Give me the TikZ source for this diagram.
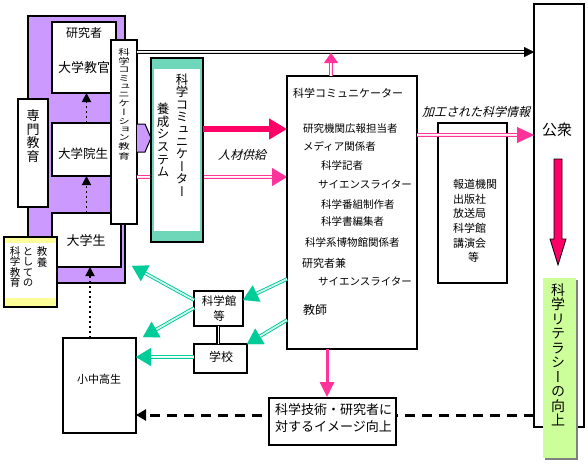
\documentclass[tikz,border=0pt]{standalone}
\usepackage{fontspec}
\usepackage{graphicx}
\newfontfamily\jp{Noto Sans CJK JP}
\newfontfamily\jpv{Noto Sans CJK JP}[RawFeature=+vert]
\newfontfamily\jpi{Noto Sans CJK JP}[FakeSlant=0.25]
\usetikzlibrary{arrows.meta}
\definecolor{purp}{RGB}{204,153,255}
\definecolor{yel}{RGB}{255,255,153}
\definecolor{lgreen}{RGB}{204,255,153}
\definecolor{teal2}{RGB}{0,204,153}
\definecolor{hatch}{RGB}{110,215,185}
\definecolor{dpink}{RGB}{255,0,102}
\definecolor{pink2}{RGB}{255,51,153}
\newcommand{\fs}[2]{\fontsize{#1}{#2}\selectfont}
\newcommand{\dblarrow}[6]{%
  \draw[#1, line width=1pt, double=white, double distance=1.6pt, shorten >=#2pt] (#5) -- (#6);
  \draw[#1, line width=0.01pt, -{Triangle[length=#3pt,width=#4pt]}] (#5) -- (#6);}
\begin{document}
\begin{tikzpicture}[x=1pt,y=-1pt,
  box/.style={draw=black, line width=1.1pt, fill=white, anchor=north west, inner sep=0pt, outer sep=0pt},
  lbl/.style={inner sep=0pt, font=\jp},
  dotarr/.style={line width=1.8pt, dash pattern=on 2.5pt off 2.5pt, -{Triangle[length=9pt,width=9pt]}}]
\useasboundingbox (0,0) rectangle (588,464);
\fill[white] (0,0) rectangle (588,464);

% ---------- left group ----------
\node[box, fill=purp, minimum width=97pt, minimum height=267pt] (purple) at (28,16) {};
\node[box, minimum width=64pt, minimum height=71pt] (kenkyu) at (52,22) {};
\node[box, minimum width=69pt, minimum height=53pt] (inst) at (52,123) {};
\node[box, minimum width=69pt, minimum height=54pt] (gakusei) at (52,213) {};
\node[lbl, font=\jp\fs{12}{12}] (t-kenkyusha) at (84,33) {研究者};
\node[lbl, font=\jp\fs{13}{13}] (t-kyokan) at (84,68) {大学教官};
\node[lbl, font=\jp\fs{12.5}{12.5}] (t-inst) at (83,154) {大学院生};
\node[lbl, font=\jp\fs{13}{13}] (t-gakusei) at (86,241) {大学生};

\draw[dotarr] (inst.north) -- (inst.north |- kenkyu.south);
\draw[dotarr] (gakusei.north) -- (gakusei.north |- inst.south);

\node[box, minimum width=30pt, minimum height=108pt] (senmon) at (18,99) {};
\node[lbl, font=\jpv\fs{13}{13.5}, align=center] (t-senmon) at (33,136) {専\\門\\教\\育};

\node[box, minimum width=53pt, minimum height=70pt] (kyoyo) at (4,237) {};
\fill[yel] (kyoyo.north west) rectangle ([yshift=-6pt]kyoyo.north east);
\fill[yel] ([yshift=9pt]kyoyo.south west) rectangle (kyoyo.south east);
\draw[line width=1.1pt] (kyoyo.north west) rectangle (kyoyo.south east);
\node[lbl, font=\jpv\fs{10.5}{10.5}, align=center] (t-ky1) at (42,257) {教\\養};
\node[lbl, font=\jpv\fs{10.5}{10.5}, align=center] (t-ky2) at (28,267) {と\\し\\て\\の};
\node[lbl, font=\jpv\fs{10.5}{10.5}, align=center] (t-ky3) at (15,267) {科\\学\\教\\育};

\node[box, minimum width=26pt, minimum height=184pt] (kyoiku) at (111,40) {};
\node[lbl, font=\jpv\fs{10}{10}] (t-kyoiku) at (124,105)
  {\scalebox{1.15}[0.82]{\begin{tabular}{@{}c@{}}科\\学\\コ\\ミ\\ュ\\ニ\\ケ\\ー\\シ\\ョ\\ン\\教\\育\end{tabular}}};

% purple block arrow
\fill[purp] (137,124) -- (145,124) -- (151,138) -- (145,152) -- (137,152) -- cycle;
\draw[line width=1pt] (137,124) -- (145,124) -- (151,138) -- (145,152) -- (137,152);

% pink double arrow behind the system box
\dblarrow{pink2}{13}{15}{18}{kyoiku.east |- 0,177}{287,177}

% ---------- system box ----------
\node[box, fill=hatch, minimum width=52pt, minimum height=184pt] (yosei) at (151,58) {};
\fill[white] ([xshift=3pt,yshift=-11pt]yosei.north west) rectangle ([xshift=-3pt,yshift=11pt]yosei.south east);
\draw[line width=1.1pt] (yosei.north west) rectangle (yosei.south east);
\node[lbl, font=\jpv\fs{12.5}{12.4}, align=center] (t-yosei1) at (182,135) {科\\学\\コ\\ミ\\ュ\\ニ\\ケ\\ー\\タ\\ー};
\node[lbl, font=\jpv\fs{12.5}{12.7}, align=center] (t-yosei2) at (163,140) {養\\成\\シ\\ス\\テ\\ム};

% ---------- main box ----------
\node[box, minimum width=130pt, minimum height=273pt] (main) at (287,76) {};
\node[lbl, font=\jp\fs{11}{11}, anchor=west] (m0) at (293,93) {科学コミュニケーター};
\node[lbl, font=\jp\fs{10.5}{10.5}, anchor=west] (m1) at (303,129) {研究機関広報担当者};
\node[lbl, font=\jp\fs{10.5}{10.5}, anchor=west] (m2) at (303,146) {メディア関係者};
\node[lbl, font=\jp\fs{10.5}{10.5}, anchor=west] (m3) at (321,165) {科学記者};
\node[lbl, font=\jp\fs{10.5}{10.5}, anchor=west] (m4) at (318,184) {サイエンスライター};
\node[lbl, font=\jp\fs{10.5}{10.5}, anchor=west] (m5) at (321,204) {科学番組制作者};
\node[lbl, font=\jp\fs{10.5}{10.5}, anchor=west] (m6) at (321,221) {科学書編集者};
\node[lbl, font=\jp\fs{10.5}{10.5}, anchor=west] (m7) at (305,242) {科学系博物館関係者};
\node[lbl, font=\jp\fs{11}{11}, anchor=west] (m8) at (302,263) {研究者兼};
\node[lbl, font=\jp\fs{10.5}{10.5}, anchor=west] (m9) at (318,281) {サイエンスライター};
\node[lbl, font=\jp\fs{12}{12}, anchor=west] (m10) at (303,310) {教師};

\draw[dpink, line width=6pt, -{Triangle[length=18pt,width=20pt]}] (yosei.east |- 0,129) -- (main.west |- 0,129);
\node[lbl, font=\jpi\fs{12}{12}] (t-jinzai) at (242,155) {人材供給};

\coordinate (topL) at (kyoiku.east |- 0,52);
\coordinate (upT) at (331,53);

% ---------- public box ----------
\node[box, minimum width=50pt, minimum height=423pt] (koshu) at (534,4) {};
\node[lbl, font=\jp\fs{15}{15}] (t-koshu) at (557,130) {公衆};
\filldraw[fill=dpink, draw=black, line width=0.8pt] (554,159) -- (562,159) -- (562,239) -- (566,239) -- (558,265) -- (550,239) -- (554,239) -- cycle;

\dblarrow{black}{8}{10}{10}{topL}{koshu.west |- 0,52}
\dblarrow{pink2}{8}{10}{14}{main.north -| 331,0}{upT}

% media box
\node[box, minimum width=69pt, minimum height=160pt] (media) at (438,123) {};
\node[lbl, font=\jp\fs{11}{14.6}, align=left, anchor=west] (t-media) at (453,221)
  {報道機関\\出版社\\放送局\\科学館\\講演会\\\hspace*{15pt}等};
\node[lbl, font=\jpi\fs{12}{12}] (t-kako) at (476,112) {加工された科学情報};
\dblarrow{pink2}{15}{17}{16}{main.east |- 0,135}{koshu.west |- 0,135}

% literacy box
\fill[gray] (545,280) rectangle (578,460);
\node[box, draw=none, fill=lgreen, minimum width=33pt, minimum height=180pt] (lit) at (543,278) {};
\node[lbl, font=\jpv\fs{14}{14.5}, align=center] (t-lit) at (558,355) {科\\学\\リ\\テ\\ラ\\シ\\ー\\の\\向\\上};

% ---------- lower part ----------
\node[box, minimum width=49pt, minimum height=35pt] (kagakukan) at (194,291) {};
\node[lbl, font=\jp\fs{11.5}{15}, align=center] (t-kagakukan) at (219,309) {科学館\\等};
\node[box, minimum width=53pt, minimum height=29pt] (gakko) at (194,344) {};
\node[lbl, font=\jp\fs{12}{12}] (t-gakko) at (221,357) {学校};
\draw[line width=1.6pt, double=white, double distance=1pt] (kagakukan.south -| 218,0) -- (gakko.north -| 218,0);

\node[box, minimum width=73pt, minimum height=95pt] (shochu) at (63,338) {};
\node[lbl, font=\jp\fs{11}{11}] (t-shochu) at (99,379) {小中高生};
\draw[dotarr] ([xshift=-9.5pt]shochu.north) -- ([xshift=-9.5pt]shochu.north |- gakusei.south);

\draw[line width=3pt, dash pattern=on 10pt off 7pt, -{Triangle[length=10pt,width=11pt]}] (koshu.west |- 0,415) -- (shochu.east |- 0,415);
\draw[pink2, line width=3pt, -{Triangle[length=15pt,width=14pt]}] (main.south -| 327,0) -- (327,397);
\node[box, minimum width=127pt, minimum height=47pt] (image) at (269,398) {};
\node[lbl, font=\jp\fs{13}{17}, align=left, anchor=west] (t-image) at (275,418.5) {科学技術・研究者に\\対するイメージ向上};

% green arrows
\coordinate (g1) at (132,266);
\coordinate (g2) at (143,337);
\dblarrow{teal2}{13}{15}{18}{kagakukan.west |- 0,300}{g1}
\dblarrow{teal2}{13}{15}{18}{kagakukan.west |- 0,308}{g2}
\dblarrow{teal2}{13}{15}{18}{gakko.west |- 0,357}{shochu.east |- 0,357}
\dblarrow{teal2}{13}{15}{18}{main.west |- 0,279}{kagakukan.east |- 0,300}
\dblarrow{teal2}{13}{15}{18}{main.west |- 0,320}{gakko.north east}
\end{tikzpicture}
\end{document}
